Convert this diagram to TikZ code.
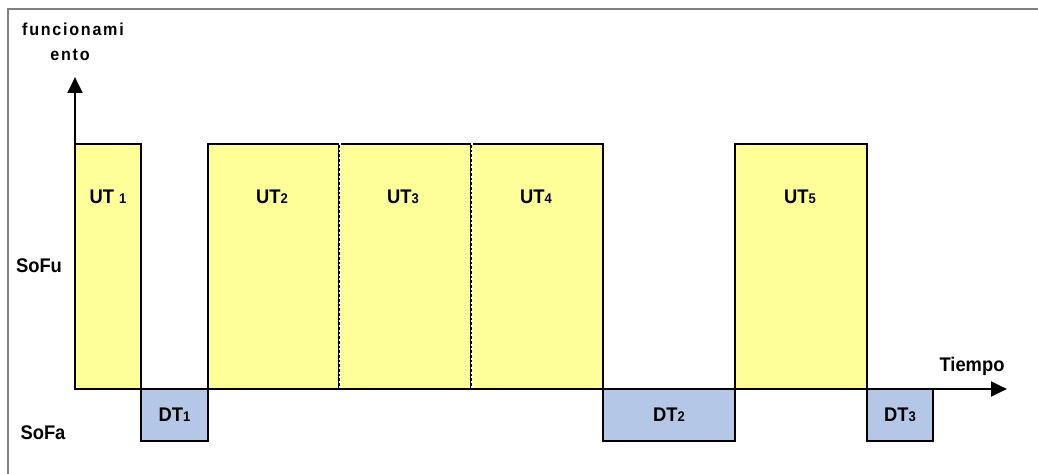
\documentclass[tikz,border=0pt]{standalone}
\usepackage{fontspec}
\setmainfont{Liberation Sans}[FakeStretch=0.93]
\usetikzlibrary{arrows.meta,fit}

\definecolor{utyellow}{RGB}{255,255,153}
\definecolor{dtblue}{RGB}{180,199,231}

% small index digit after UT / DT
\newcommand{\ix}[1]{{\fontsize{10.5}{11}\selectfont #1}}

\begin{document}
\begin{tikzpicture}[x=0.75pt, y=-0.75pt,
    ut/.style={draw, line width=1.5pt, fill=utyellow, inner sep=0pt},
    dt/.style={draw, line width=1.5pt, fill=dtblue, inner sep=0pt},
    lbl/.style={font=\fontsize{14.8}{17}\selectfont\bfseries},
    split/.style={white, line width=1.6pt, dash pattern=on 1.5pt off 2pt},
    axis/.style={line width=2.2pt, -{Triangle[length=12pt, width=11pt]}}
]
\useasboundingbox (0,0) rectangle (1038,474);

% frame
\draw[gray, line width=1.5pt] (8,474) -- (8,9) -- (1038,9);

% up times
\node[ut, fit={(75,144) (141,389)}] (ut1) {};
\node[ut, fit={(208,144) (339,389)}] (ut2) {};
\node[ut, fit={(339,144) (471,389)}] (ut3) {};
\node[ut, fit={(471,144) (603,389)}] (ut4) {};
\node[ut, fit={(735,144) (867,389)}] (ut5) {};
\draw[split] (ut2.north east) -- (ut2.south east);
\draw[split] (ut3.north east) -- (ut3.south east);

% down times
\node[dt, fit={(141,389) (208,441)}] (dt1) {};
\node[dt, fit={(603,389) (735,441)}] (dt2) {};
\node[dt, fit={(867,389) (933,441)}] (dt3) {};

% axes
\coordinate (o) at (75,389);
\coordinate (ytop) at (75,77);
\coordinate (xend) at (1007,389);
\draw[axis] (o) -- (ytop);
\draw[axis] (o) -- (xend);

% labels
\node[lbl] (lut1) at (108,197) {UT \ix{1}};
\node[lbl] (lut2) at (272,197) {UT\ix{2}};
\node[lbl] (lut3) at (403,197) {UT\ix{3}};
\node[lbl] (lut4) at (536,197) {UT\ix{4}};
\node[lbl] (lut5) at (800,197) {UT\ix{5}};
\node[lbl] (ldt1) at (dt1.center) {DT\ix{1}};
\node[lbl] (ldt2) at (dt2.center) {DT\ix{2}};
\node[lbl] (ldt3) at (dt3.center) {DT\ix{3}};
\node[lbl] (sofu) at (39,266) {SoFu};
\node[lbl] (sofa) at (43,433) {SoFa};
\node[lbl] (tiempo) at (972,366) {Tiempo};
\node[lbl, font=\fontsize{13}{15}\selectfont\bfseries\addfontfeature{LetterSpace=10}] (func1) at (73,29) {funcionami};
\node[lbl, font=\fontsize{13}{15}\selectfont\bfseries\addfontfeature{LetterSpace=10}] (func2) at (70,55) {ento};
\end{tikzpicture}
\end{document}
